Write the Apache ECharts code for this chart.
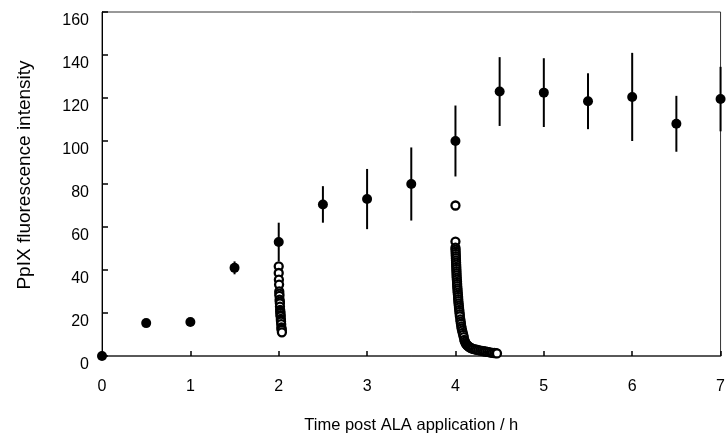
<!DOCTYPE html>
<html>
<head>
<meta charset="utf-8">
<script src="https://cdn.jsdelivr.net/npm/echarts@6/dist/echarts.min.js"></script>
<style>
html, body { margin: 0; padding: 0; background: #fff; }
#chart { width: 728px; height: 445px; }
</style>
</head>
<body>
<div id="chart"></div>
<script>
// mean values (filled dots) with standard deviation bars
var meanTime = [0, 0.5, 1, 1.5, 2, 2.5, 3, 3.5, 4, 4.5, 5, 5.5, 6, 6.5, 7];
var meanValue = [0, 15.3, 15.8, 41, 53, 70.5, 73, 80, 100, 123, 122.5, 118.5, 120.5, 108, 119.5];
var meanSd = [0, 0, 0, 3, 9, 8.5, 14, 17, 16.5, 16, 16, 13, 20.5, 13, 15];

// bleaching curve read after 2 h (open circles)
var bleach2Time = [2.0, 2.0, 2.002, 2.004, 2.006, 2.007, 2.008, 2.01, 2.012, 2.013, 2.014, 2.016, 2.018, 2.019, 2.02, 2.022, 2.024, 2.025, 2.026, 2.028, 2.03, 2.032, 2.034, 2.036];
var bleach2Value = [41.7, 38.6, 35.5, 33.2, 30.1, 29, 28, 26.2, 25.3, 24.5, 23, 21.5, 20.6, 20, 19, 18.5, 17.2, 16.5, 16, 14.8, 13.3, 12.6, 12, 11];

// bleaching curve read after 4 h (open circles)
var bleach4Time = [4.0, 4.0, 4.0, 4.001, 4.002, 4.003, 4.004, 4.005, 4.006, 4.007, 4.008, 4.009, 4.01, 4.011, 4.012, 4.013, 4.014, 4.016, 4.018, 4.019, 4.02, 4.022, 4.024, 4.025, 4.028, 4.03, 4.031, 4.033, 4.035, 4.038, 4.04, 4.043, 4.045, 4.048, 4.05, 4.055, 4.058, 4.062, 4.066, 4.07, 4.076, 4.082, 4.088, 4.094, 4.1, 4.107, 4.115, 4.122, 4.13, 4.14, 4.15, 4.16, 4.17, 4.185, 4.2, 4.22, 4.24, 4.26, 4.28, 4.3, 4.32, 4.34, 4.36, 4.38, 4.4, 4.42, 4.44, 4.46, 4.47];
var bleach4Value = [70, 53.2, 50.4, 49.5, 48.5, 47.5, 46.5, 45.5, 44.5, 43.5, 42.5, 41.5, 40.5, 39.5, 38.5, 37.5, 36.5, 35.5, 34.5, 33.5, 32.5, 31.5, 30.5, 29.5, 28.5, 27.5, 26.5, 25.5, 24.5, 23.5, 22.5, 21.5, 20.5, 19.5, 18.5, 17, 16, 15, 13.8, 12.8, 11.8, 10.8, 9.8, 8.8, 7.5, 6.7, 6, 5.5, 5.1, 4.7, 4.4, 4.1, 3.8, 3.5, 3.3, 3.1, 2.9, 2.7, 2.5, 2.4, 2.2, 2.1, 1.9, 1.8, 1.6, 1.5, 1.4, 1.3, 1.2];

var xTicks = [0, 1, 2, 3, 4, 5, 6, 7];
var yTicks = [0, 20, 40, 60, 80, 100, 120, 140, 160];

function pairs(xs, ys) {
    return xs.map(function (x, i) { return [x, ys[i]]; });
}

var meanPoints = pairs(meanTime, meanValue);
var barData = meanTime.map(function (t, i) {
    return [t, meanValue[i] - meanSd[i], meanValue[i] + meanSd[i]];
});

var openStyle = { color: '#fff', borderColor: '#000', borderWidth: 2.3, opacity: 1 };

var chart = echarts.init(document.getElementById('chart'));
chart.setOption({
    animation: false,
    textStyle: { fontFamily: 'Liberation Sans, Arial, sans-serif' },
    grid: {
        left: 102, right: 5, top: 12, bottom: 89,
        show: true, borderColor: '#333', borderWidth: 1
    },
    xAxis: {
        type: 'value',
        min: xTicks[0], max: xTicks[xTicks.length - 1], interval: 1,
        name: 'Time post ALA application / h',
        nameLocation: 'middle',
        nameGap: 61,
        nameTextStyle: { fontSize: 16.5, color: '#000' },
        axisLine: { lineStyle: { color: '#444', width: 1.5 } },
        axisTick: { inside: true, length: 5, lineStyle: { color: '#000', width: 1.5 } },
        axisLabel: { fontSize: 16, color: '#000', margin: 23 },
        splitLine: { show: false }
    },
    yAxis: {
        type: 'value',
        min: yTicks[0], max: yTicks[yTicks.length - 1], interval: 20,
        name: 'PpIX fluorescence intensity',
        nameLocation: 'middle',
        nameGap: 68,
        nameTextStyle: { fontSize: 19, color: '#000', padding: [0, 0, 0, 18] },
        axisLine: { lineStyle: { color: '#000', width: 1 } },
        axisTick: { inside: true, length: 6, lineStyle: { color: '#000', width: 1.5 } },
        axisLabel: { fontSize: 16, color: '#000', margin: 13, verticalAlign: 'top', padding: [1, 0, 0, 0] },
        splitLine: { show: false }
    },
    series: [
        {
            type: 'custom',
            renderItem: function (params, api) {
                var lo = api.coord([api.value(0), api.value(1)]);
                var hi = api.coord([api.value(0), api.value(2)]);
                return {
                    type: 'line',
                    shape: { x1: lo[0], y1: lo[1], x2: hi[0], y2: hi[1] },
                    style: { stroke: '#000', lineWidth: 2 }
                };
            },
            data: barData,
            z: 2
        },
        {
            type: 'scatter',
            data: meanPoints,
            symbol: 'circle',
            symbolSize: 10,
            itemStyle: { color: '#000', opacity: 1 },
            z: 3
        },
        {
            type: 'scatter',
            data: pairs(bleach2Time, bleach2Value),
            symbol: 'circle',
            symbolSize: 8,
            itemStyle: openStyle,
            z: 4
        },
        {
            type: 'scatter',
            data: pairs(bleach4Time, bleach4Value),
            symbol: 'circle',
            symbolSize: 8,
            itemStyle: openStyle,
            z: 4
        }
    ]
});
</script>
</body>
</html>
